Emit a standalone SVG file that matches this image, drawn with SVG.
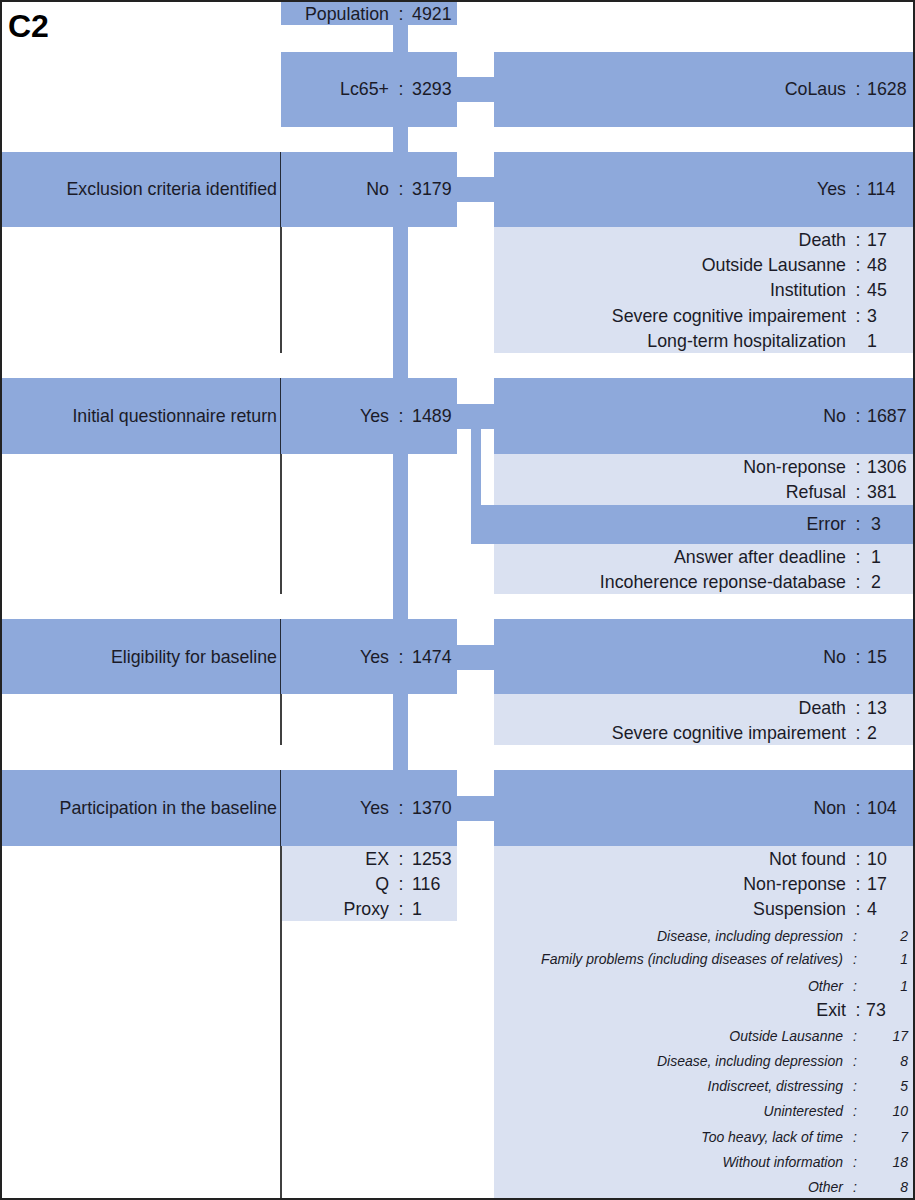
<svg xmlns="http://www.w3.org/2000/svg" width="915" height="1200" viewBox="0 0 915 1200">
<style>
.d{fill:#8EA9DB}
.l{fill:#DAE1F1}
.c{fill:#8EA9DB}
text{font-family:"Liberation Sans",Arial,sans-serif;font-size:17.8px;fill:#1b1b28}
.e{text-anchor:end}
.m{text-anchor:middle}
.i{font-style:italic;font-size:14px}
.v{stroke:#000;stroke-width:1.5}
</style>
<rect x="0" y="0" width="915" height="1200" fill="#fff"/>
<text x="8" y="37" style="font-size:32px;font-weight:bold;fill:#000">C2</text>

<g id="connectors">
<rect class="c" x="393" y="25" width="15" height="28"/>
<rect class="c" x="393" y="126" width="15" height="27"/>
<rect class="c" x="393" y="226" width="15" height="153"/>
<rect class="c" x="393" y="453" width="15" height="167"/>
<rect class="c" x="393" y="693" width="15" height="78"/>
<rect class="c" x="456" y="77" width="39" height="25"/>
<rect class="c" x="456" y="177" width="39" height="25"/>
<rect class="c" x="456" y="404" width="39" height="25"/>
<rect class="c" x="471" y="428" width="10" height="78"/>
<rect class="c" x="456" y="645" width="39" height="25"/>
<rect class="c" x="456" y="796" width="39" height="25"/>
</g>

<g id="population">
<rect class="d" x="281" y="2" width="176" height="23"/>
<text class="e" x="389" y="20">Population</text><text class="m" x="401" y="20">:</text><text x="412" y="20">4921</text>
</g>
<g id="lc65">
<rect class="d" x="281" y="52" width="176" height="75"/>
<text class="e" x="389" y="95">Lc65+</text><text class="m" x="401" y="95">:</text><text x="412" y="95">3293</text>
</g>
<g id="colaus">
<rect class="d" x="494" y="52" width="419" height="75"/>
<text class="e" x="846" y="95">CoLaus</text><text class="m" x="858" y="95">:</text><text x="867" y="95">1628</text>
</g>

<g id="exclusion">
<rect class="d" x="0" y="152" width="281" height="75"/>
<text class="e" x="277" y="195">Exclusion criteria identified</text>
<line class="v" x1="281" y1="152" x2="281" y2="353"/>
</g>
<g id="excl-no">
<rect class="d" x="281" y="152" width="176" height="75"/>
<text class="e" x="389" y="195">No</text><text class="m" x="401" y="195">:</text><text x="412" y="195">3179</text>
</g>
<g id="excl-yes">
<rect class="d" x="494" y="152" width="419" height="75"/>
<text class="e" x="846" y="195">Yes</text><text class="m" x="858" y="195">:</text><text x="867" y="195">114</text>
<rect class="l" x="494" y="227" width="419" height="126"/>
<text class="e" x="846" y="246">Death</text><text class="m" x="858" y="246">:</text><text x="867" y="246">17</text>
<text class="e" x="846" y="271">Outside Lausanne</text><text class="m" x="858" y="271">:</text><text x="867" y="271">48</text>
<text class="e" x="846" y="296">Institution</text><text class="m" x="858" y="296">:</text><text x="867" y="296">45</text>
<text class="e" x="846" y="322">Severe cognitive impairement</text><text class="m" x="858" y="322">:</text><text x="867" y="322">3</text>
<text class="e" x="846" y="347">Long-term hospitalization</text><text x="867" y="347">1</text>
</g>

<g id="questionnaire">
<rect class="d" x="0" y="378" width="281" height="76"/>
<text class="e" x="277" y="422">Initial questionnaire return</text>
<line class="v" x1="281" y1="378" x2="281" y2="594"/>
</g>
<g id="quest-yes">
<rect class="d" x="281" y="378" width="176" height="76"/>
<text class="e" x="389" y="422">Yes</text><text class="m" x="401" y="422">:</text><text x="412" y="422">1489</text>
</g>
<g id="quest-no">
<rect class="d" x="494" y="378" width="419" height="76"/>
<text class="e" x="846" y="422">No</text><text class="m" x="858" y="422">:</text><text x="867" y="422">1687</text>
<rect class="l" x="494" y="454" width="419" height="51"/>
<text class="e" x="846" y="473">Non-reponse</text><text class="m" x="858" y="473">:</text><text x="867" y="473">1306</text>
<text class="e" x="846" y="498">Refusal</text><text class="m" x="858" y="498">:</text><text x="867" y="498">381</text>
</g>
<g id="error">
<rect class="d" x="471" y="505" width="442" height="39"/>
<text class="e" x="846" y="530">Error</text><text class="m" x="858" y="530">:</text><text x="871" y="530">3</text>
<rect class="l" x="494" y="544" width="419" height="50"/>
<text class="e" x="846" y="563">Answer after deadline</text><text class="m" x="858" y="563">:</text><text x="871" y="563">1</text>
<text class="e" x="846" y="588">Incoherence reponse-database</text><text class="m" x="858" y="588">:</text><text x="871" y="588">2</text>
</g>

<g id="eligibility">
<rect class="d" x="0" y="619" width="281" height="75"/>
<text class="e" x="277" y="663">Eligibility for baseline</text>
<line class="v" x1="281" y1="619" x2="281" y2="745"/>
</g>
<g id="elig-yes">
<rect class="d" x="281" y="619" width="176" height="75"/>
<text class="e" x="389" y="663">Yes</text><text class="m" x="401" y="663">:</text><text x="412" y="663">1474</text>
</g>
<g id="elig-no">
<rect class="d" x="494" y="619" width="419" height="75"/>
<text class="e" x="846" y="663">No</text><text class="m" x="858" y="663">:</text><text x="867" y="663">15</text>
<rect class="l" x="494" y="694" width="419" height="51"/>
<text class="e" x="846" y="714">Death</text><text class="m" x="858" y="714">:</text><text x="867" y="714">13</text>
<text class="e" x="846" y="739">Severe cognitive impairement</text><text class="m" x="858" y="739">:</text><text x="867" y="739">2</text>
</g>

<g id="participation">
<rect class="d" x="0" y="770" width="281" height="76"/>
<text class="e" x="277" y="814">Participation in the baseline</text>
<line class="v" x1="281" y1="770" x2="281" y2="1199"/>
</g>
<g id="part-yes">
<rect class="d" x="281" y="770" width="176" height="76"/>
<text class="e" x="389" y="814">Yes</text><text class="m" x="401" y="814">:</text><text x="412" y="814">1370</text>
<rect class="l" x="282" y="846" width="175" height="75"/>
<text class="e" x="389" y="865">EX</text><text class="m" x="401" y="865">:</text><text x="412" y="865">1253</text>
<text class="e" x="389" y="890">Q</text><text class="m" x="401" y="890">:</text><text x="412" y="890">116</text>
<text class="e" x="389" y="915">Proxy</text><text class="m" x="401" y="915">:</text><text x="412" y="915">1</text>
</g>
<g id="part-non">
<rect class="d" x="494" y="770" width="419" height="76"/>
<text class="e" x="846" y="814">Non</text><text class="m" x="858" y="814">:</text><text x="867" y="814">104</text>
<rect class="l" x="494" y="846" width="419" height="353"/>
<text class="e" x="846" y="865">Not found</text><text class="m" x="858" y="865">:</text><text x="867" y="865">10</text>
<text class="e" x="846" y="890">Non-reponse</text><text class="m" x="858" y="890">:</text><text x="867" y="890">17</text>
<text class="e" x="846" y="915">Suspension</text><text class="m" x="858" y="915">:</text><text x="867" y="915">4</text>
<text class="e i" x="843" y="941">Disease, including depression</text><text class="m i" x="855" y="941">:</text><text class="e i" x="908" y="941">2</text>
<text class="e i" x="843" y="964">Family problems (including diseases of relatives)</text><text class="m i" x="855" y="964">:</text><text class="e i" x="908" y="964">1</text>
<text class="e i" x="843" y="991">Other</text><text class="m i" x="855" y="991">:</text><text class="e i" x="908" y="991">1</text>
<text class="e" x="846" y="1016">Exit</text><text class="m" x="858" y="1016">:</text><text x="866" y="1016">73</text>
<text class="e i" x="843" y="1041">Outside Lausanne</text><text class="m i" x="855" y="1041">:</text><text class="e i" x="908" y="1041">17</text>
<text class="e i" x="843" y="1066">Disease, including depression</text><text class="m i" x="855" y="1066">:</text><text class="e i" x="908" y="1066">8</text>
<text class="e i" x="843" y="1091">Indiscreet, distressing</text><text class="m i" x="855" y="1091">:</text><text class="e i" x="908" y="1091">5</text>
<text class="e i" x="843" y="1116">Uninterested</text><text class="m i" x="855" y="1116">:</text><text class="e i" x="908" y="1116">10</text>
<text class="e i" x="843" y="1142">Too heavy, lack of time</text><text class="m i" x="855" y="1142">:</text><text class="e i" x="908" y="1142">7</text>
<text class="e i" x="843" y="1167">Without information</text><text class="m i" x="855" y="1167">:</text><text class="e i" x="908" y="1167">18</text>
<text class="e i" x="843" y="1192">Other</text><text class="m i" x="855" y="1192">:</text><text class="e i" x="908" y="1192">8</text>
</g>

<rect x="1" y="1" width="913" height="1198" fill="none" stroke="#222" stroke-width="2"/>
</svg>
